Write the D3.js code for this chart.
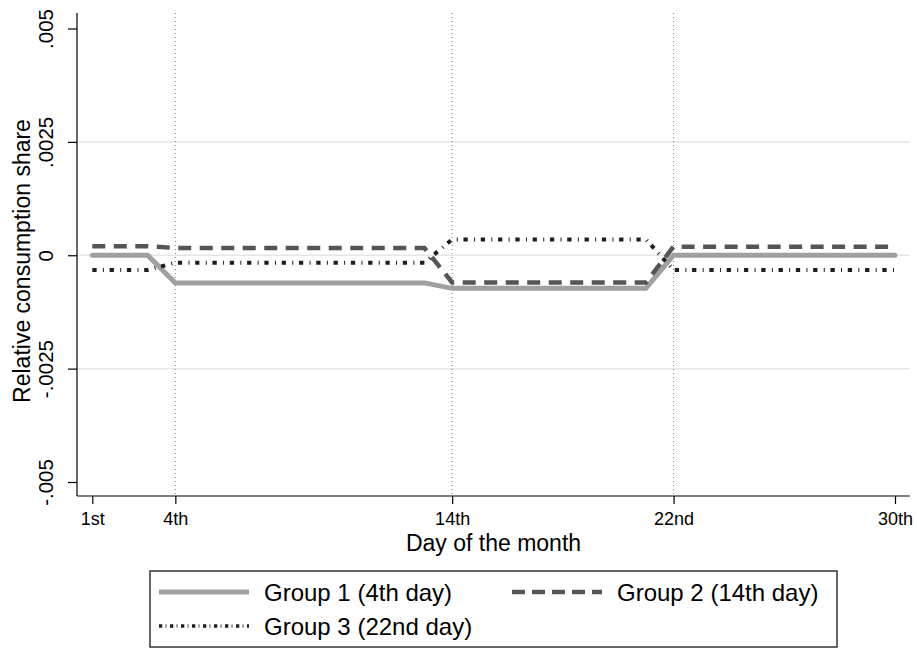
<!DOCTYPE html>
<html>
<head>
<meta charset="utf-8">
<script src="https://cdn.jsdelivr.net/npm/d3@7/dist/d3.min.js"></script>
<style>
  html, body { margin: 0; padding: 0; background: #fff; }
  svg { display: block; font-family: "Liberation Sans", Arial, Helvetica, sans-serif; }
</style>
</head>
<body>
<svg id="chart" width="917" height="650"></svg>
<script>
// Day of the month (x values)
const days = [1,2,3,4,5,6,7,8,9,10,11,12,13,14,15,16,17,18,19,20,21,22,23,24,25,26,27,28,29,30];

// Relative consumption share by payday group
const group1 = [0, 0, 0,
  -0.00061, -0.00061, -0.00061, -0.00061, -0.00061, -0.00061, -0.00061, -0.00061, -0.00061, -0.00061,
  -0.00073, -0.00073, -0.00073, -0.00073, -0.00073, -0.00073, -0.00073, -0.00073,
  0, 0, 0, 0, 0, 0, 0, 0, 0];
const group2 = [0.0002, 0.0002, 0.0002,
  0.00016, 0.00016, 0.00016, 0.00016, 0.00016, 0.00016, 0.00016, 0.00016, 0.00016, 0.00016,
  -0.0006, -0.0006, -0.0006, -0.0006, -0.0006, -0.0006, -0.0006, -0.0006,
  0.00019, 0.00019, 0.00019, 0.00019, 0.00019, 0.00019, 0.00019, 0.00019, 0.00019];
const group3 = [-0.000325, -0.000325, -0.000325,
  -0.000164, -0.000164, -0.000164, -0.000164, -0.000164, -0.000164, -0.000164, -0.000164, -0.000164, -0.000164,
  0.00035, 0.00035, 0.00035, 0.00035, 0.00035, 0.00035, 0.00035, 0.00035,
  -0.000325, -0.000325, -0.000325, -0.000325, -0.000325, -0.000325, -0.000325, -0.000325, -0.000325];

const seriesNames = ["Group 1 (4th day)", "Group 2 (14th day)", "Group 3 (22nd day)"];

// Axis ticks
const xTickDays = [1, 4, 14, 22, 30];
const xTickLabels = ["1st", "4th", "14th", "22nd", "30th"];
const yTickValues = [-0.005, -0.0025, 0, 0.0025, 0.005];
const yTickLabels = ["-.005", "-.0025", "0", ".0025", ".005"];
const yGridValues = [-0.0025, 0, 0.0025];
const xRefDays = [4, 14, 22];

const svg = d3.select("#chart");

const plot = { left: 77, right: 910, top: 13, bottom: 496 };

const x = d3.scaleLinear().domain([1, 30]).range([92.3, 895]);
const y = d3.scaleLinear().domain([-0.005, 0.005]).range([482, 28.5]);

// Horizontal grid lines
svg.append("g").selectAll("line").data(yGridValues).join("line")
  .attr("x1", plot.left).attr("x2", plot.right)
  .attr("y1", d => y(d)).attr("y2", d => y(d))
  .attr("stroke", "#e6e6e6").attr("stroke-width", 1.5);

// Vertical dotted reference lines at paydays
svg.append("g").selectAll("line").data(xRefDays).join("line")
  .attr("x1", d => x(d)).attr("x2", d => x(d))
  .attr("y1", plot.top).attr("y2", plot.bottom)
  .attr("stroke", "#777").attr("stroke-width", 1)
  .attr("stroke-dasharray", "1,3");

// Series lines
const styles = [
  { color: "#a0a0a0", width: 5, dash: null, cap: "round", legendDash: null, legendWidth: 5 },
  { color: "#555555", width: 4.5, dash: "13,8.5", cap: "butt", legendDash: "13,7", legendWidth: 4.5 },
  { color: "#1e1e1e", width: 4, dash: "4.3,6.3,1,5.7", cap: "butt", legendDash: "3.3,3.3,0.8,3.6", legendWidth: 3.5 }
];
const seriesData = [group1, group2, group3];

const line = d3.line().x((d, i) => x(days[i])).y(d => y(d));

seriesData.forEach((vals, k) => {
  svg.append("path")
    .datum(vals)
    .attr("d", line)
    .attr("fill", "none")
    .attr("stroke", styles[k].color)
    .attr("stroke-width", styles[k].width)
    .attr("stroke-linecap", styles[k].cap)
    .attr("stroke-linejoin", "miter")
    .attr("stroke-dasharray", styles[k].dash);
});

// Y axis
const yAxis = d3.axisLeft(y).tickValues(yTickValues)
  .tickFormat((d, i) => yTickLabels[i]).tickSize(9).tickSizeOuter(0);
const gy = svg.append("g").attr("transform", `translate(${plot.left},0)`).call(yAxis);
gy.select(".domain").remove();
gy.selectAll(".tick line").attr("stroke", "#000").attr("stroke-width", 1.2);
gy.selectAll(".tick text")
  .attr("font-size", 20.5).attr("fill", "#000")
  .attr("text-anchor", "middle")
  .attr("x", null).attr("dy", null)
  .attr("transform", "translate(-24,0) rotate(-90)");
svg.append("line")
  .attr("x1", plot.left).attr("x2", plot.left)
  .attr("y1", plot.top).attr("y2", plot.bottom)
  .attr("stroke", "#000").attr("stroke-width", 1.2);

// X axis
const xAxis = d3.axisBottom(x).tickValues(xTickDays)
  .tickFormat((d, i) => xTickLabels[i]).tickSize(8).tickSizeOuter(0);
const gx = svg.append("g").attr("transform", `translate(0,${plot.bottom})`).call(xAxis);
gx.select(".domain").remove();
gx.selectAll(".tick line").attr("stroke", "#000").attr("stroke-width", 1.2);
gx.selectAll(".tick text")
  .attr("font-size", 18).attr("fill", "#000")
  .attr("y", 29).attr("dy", null);
svg.append("line")
  .attr("x1", plot.left).attr("x2", plot.right)
  .attr("y1", plot.bottom).attr("y2", plot.bottom)
  .attr("stroke", "#000").attr("stroke-width", 1.2);

// Axis titles
svg.append("text")
  .attr("x", (plot.left + plot.right) / 2).attr("y", 551)
  .attr("text-anchor", "middle").attr("font-size", 23)
  .text("Day of the month");
svg.append("text")
  .attr("transform", `translate(30,261) rotate(-90)`)
  .attr("text-anchor", "middle").attr("font-size", 23)
  .text("Relative consumption share");

// Legend
const legend = svg.append("g");
legend.append("rect")
  .attr("x", 150).attr("y", 571).attr("width", 687).attr("height", 76)
  .attr("fill", "#fff").attr("stroke", "#333").attr("stroke-width", 1.5);
const legendPos = [
  { x: 159, y: 592 },
  { x: 512, y: 592 },
  { x: 159, y: 626 }
];
seriesNames.forEach((name, k) => {
  const p = legendPos[k];
  legend.append("line")
    .attr("x1", p.x).attr("x2", p.x + 90)
    .attr("y1", p.y).attr("y2", p.y)
    .attr("stroke", styles[k].color)
    .attr("stroke-width", styles[k].legendWidth)
    .attr("stroke-dasharray", styles[k].legendDash);
  legend.append("text")
    .attr("x", p.x + 105).attr("y", p.y + 8.5)
    .attr("font-size", 24)
    .text(name);
});
</script>
</body>
</html>
